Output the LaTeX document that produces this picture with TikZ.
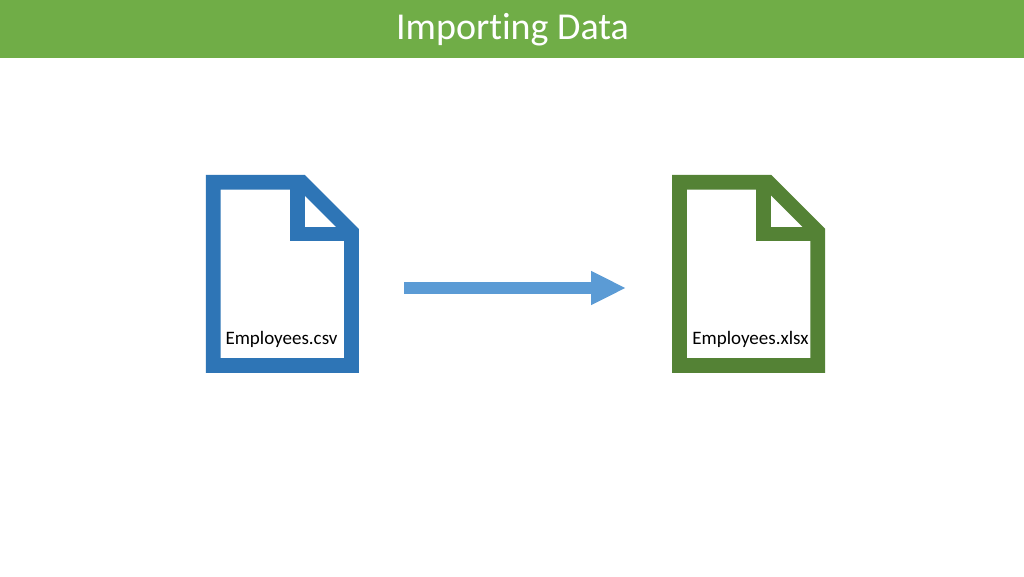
\documentclass[tikz,border=0pt]{standalone}
\usepackage{fontspec}
\setmainfont[Ligatures=NoCommon]{Carlito}
\usetikzlibrary{arrows.meta}

\definecolor{bannergreen}{HTML}{70AD47}
\definecolor{csvblue}{HTML}{2E75B6}
\definecolor{xlsxgreen}{HTML}{548235}
\definecolor{arrowblue}{HTML}{5B9BD5}

\tikzset{
  docbox/.style={minimum width=153pt,minimum height=198pt,inner sep=0pt},
  doclabel/.style={font=\fontsize{19}{22}\selectfont,text=black,inner sep=0pt},
  docpage/.pic={
    \draw[line width=14.7pt,miter limit=10,pic actions]
      (7.35,7.35) -- (95.95,7.35) -- (145.65,57.05) -- (145.65,190.65) -- (7.35,190.65) -- cycle;
    \draw[line width=14.7pt,miter limit=10,pic actions]
      (91.35,7.35) -- (91.35,59.2) -- (145.65,59.2);
  }
}

\begin{document}
\begin{tikzpicture}[x=1pt,y=-1pt]
    \useasboundingbox (0,0) rectangle (1024,576);
    \fill[white] (0,0) rectangle (1024,576);

    \fill[bannergreen] (0,0) rectangle (1024,57.5);
    \node[text=white,font=\fontsize{38}{42}\selectfont,inner sep=0pt] (title) at (512.5,29.5) {Importing Data};

    \node[docbox] (csvfile) at (282.5,274) {};
    \node[docbox] (xlsxfile) at (748.8,274) {};

    \path (csvfile.north west) pic[draw=csvblue] {docpage};
    \path (xlsxfile.north west) pic[draw=xlsxgreen] {docpage};

    \node[doclabel] (csvlabel) at (281.5,339) {Employees.csv};
    \node[doclabel] (xlsxlabel) at (750.5,339) {Employees.xlsx};

    \draw[-{Triangle[length=35pt,width=31.5pt]},line width=11.5pt,arrowblue]
      ([shift={(45,14)}]csvfile.east) -- ([shift={(-46,14)}]xlsxfile.west);
\end{tikzpicture}
\end{document}
